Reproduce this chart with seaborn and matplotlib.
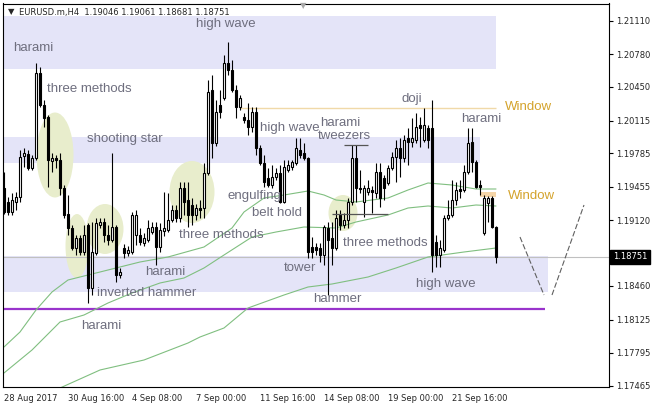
import numpy as np
import pandas as pd
import matplotlib
matplotlib.use('Agg')
import matplotlib.pyplot as plt
import matplotlib.transforms as mtransforms
from matplotlib.patches import Ellipse
import seaborn as sns

# --- EURUSD H4 candles ---
opens = [1.1944, 1.1930, 1.1920, 1.1930, 1.1935, 1.1976, 1.1978, 1.1964, 1.1974, 1.2059,
         1.2027, 1.2015, 1.1971, 1.1974, 1.1972, 1.1944, 1.1918, 1.1904, 1.1884, 1.1894,
         1.1880, 1.1907, 1.1844, 1.1879, 1.1907, 1.1910, 1.1897, 1.1892, 1.1905, 1.1857,
         1.1884, 1.1879, 1.1880, 1.1897, 1.1897, 1.1889, 1.1892, 1.1900, 1.1905, 1.1885,
         1.1901, 1.1902, 1.1912, 1.1922, 1.1914, 1.1944, 1.1932, 1.1927, 1.1917, 1.1924,
         1.1924, 1.1959, 1.2042, 1.1989, 1.2027, 1.2034, 1.2069, 1.2062, 1.2042, 1.2025,
         1.2015, 1.2012, 1.2005, 1.2020, 1.1984, 1.1969, 1.1954, 1.1947, 1.1955, 1.1959,
         1.1930, 1.1962, 1.1965, 1.1969, 1.1982, 1.1979, 1.1974, 1.1885, 1.1885, 1.1884,
         1.1877, 1.1904, 1.1894, 1.1884, 1.1917, 1.1907, 1.1912, 1.1930, 1.1974, 1.1944,
         1.1930, 1.1940, 1.1942, 1.1939, 1.1960, 1.1954, 1.1949, 1.1964, 1.1975, 1.1984,
         1.1974, 1.1994, 1.1990, 1.1992, 1.2007, 1.1992, 1.2004, 1.2004, 1.1890, 1.1877,
         1.1882, 1.1914, 1.1917, 1.1932, 1.1943, 1.1942, 1.1960, 1.1990, 1.1970, 1.1947,
         1.1899, 1.1929, 1.1934, 1.1905]
highs = [1.1960, 1.1935, 1.1939, 1.1940, 1.1982, 1.1984, 1.1982, 1.1977, 1.2069, 1.2065,
         1.2032, 1.2017, 1.1979, 1.1977, 1.1979, 1.1947, 1.1937, 1.1907, 1.1897, 1.1897,
         1.1907, 1.1909, 1.1910, 1.1914, 1.1914, 1.1914, 1.1907, 1.1979, 1.1907, 1.1864,
         1.1888, 1.1886, 1.1920, 1.1922, 1.1904, 1.1899, 1.1912, 1.1910, 1.1910, 1.1909,
         1.1940, 1.1939, 1.1927, 1.1927, 1.1950, 1.1950, 1.1950, 1.1934, 1.1928, 1.1932,
         1.1969, 1.2052, 1.2057, 1.2032, 1.2042, 1.2077, 1.2090, 1.2072, 1.2047, 1.2037,
         1.2019, 1.2029, 1.2025, 1.2025, 1.1987, 1.1977, 1.1964, 1.1967, 1.1964, 1.1967,
         1.1972, 1.1972, 1.1972, 1.1994, 1.1994, 1.1989, 1.1975, 1.1895, 1.1889, 1.1889,
         1.1907, 1.1910, 1.1910, 1.1922, 1.1922, 1.1919, 1.1934, 1.1987, 1.1987, 1.1962,
         1.1947, 1.1952, 1.1946, 1.1969, 1.1969, 1.1957, 1.1967, 1.1980, 1.1992, 1.1994,
         1.1997, 1.2004, 1.2014, 1.2019, 1.2015, 1.2024, 1.2007, 1.2032, 1.1897, 1.1892,
         1.1917, 1.1932, 1.1952, 1.1950, 1.1952, 1.1967, 1.2004, 1.2004, 1.1972, 1.1952,
         1.1937, 1.1936, 1.1936, 1.1906]
lows = [1.1918, 1.1917, 1.1917, 1.1922, 1.1930, 1.1965, 1.1962, 1.1962, 1.1972, 1.2025,
        1.2005, 1.1945, 1.1960, 1.1964, 1.1937, 1.1914, 1.1897, 1.1882, 1.1877, 1.1877,
        1.1877, 1.1829, 1.1837, 1.1877, 1.1904, 1.1890, 1.1887, 1.1890, 1.1850, 1.1854,
        1.1874, 1.1876, 1.1878, 1.1887, 1.1887, 1.1886, 1.1890, 1.1898, 1.1867, 1.1880,
        1.1896, 1.1900, 1.1910, 1.1910, 1.1910, 1.1917, 1.1905, 1.1907, 1.1912, 1.1914,
        1.1914, 1.1957, 1.1974, 1.1986, 1.2014, 1.2032, 1.2057, 1.2040, 1.2014, 1.2022,
        1.2009, 1.1997, 1.2000, 1.1977, 1.1967, 1.1945, 1.1945, 1.1944, 1.1952, 1.1929,
        1.1929, 1.1960, 1.1962, 1.1967, 1.1974, 1.1972, 1.1874, 1.1874, 1.1877, 1.1870,
        1.1867, 1.1837, 1.1867, 1.1882, 1.1902, 1.1904, 1.1904, 1.1927, 1.1930, 1.1939,
        1.1915, 1.1937, 1.1919, 1.1934, 1.1925, 1.1932, 1.1947, 1.1962, 1.1950, 1.1955,
        1.1970, 1.1967, 1.1985, 1.1989, 1.1985, 1.1990, 1.1984, 1.1860, 1.1865, 1.1865,
        1.1880, 1.1912, 1.1915, 1.1927, 1.1934, 1.1940, 1.1958, 1.1960, 1.1944, 1.1937,
        1.1897, 1.1910, 1.1904, 1.1869]
closes = [1.1920, 1.1920, 1.1932, 1.1935, 1.1975, 1.1979, 1.1964, 1.1974, 1.2059, 1.2027,
          1.2014, 1.1972, 1.1974, 1.1972, 1.1944, 1.1917, 1.1904, 1.1884, 1.1894, 1.1880,
          1.1897, 1.1844, 1.1880, 1.1909, 1.1910, 1.1897, 1.1892, 1.1905, 1.1857, 1.1860,
          1.1879, 1.1882, 1.1917, 1.1917, 1.1890, 1.1894, 1.1904, 1.1905, 1.1885, 1.1902,
          1.1904, 1.1912, 1.1922, 1.1914, 1.1944, 1.1930, 1.1917, 1.1917, 1.1924, 1.1922,
          1.1959, 1.2040, 1.1989, 1.2020, 1.2020, 1.2069, 1.2062, 1.2042, 1.2025, 1.2034,
          1.2012, 1.2005, 1.2020, 1.1984, 1.1969, 1.1950, 1.1947, 1.1955, 1.1959, 1.1930,
          1.1965, 1.1967, 1.1970, 1.1984, 1.1977, 1.1974, 1.1880, 1.1880, 1.1882, 1.1877,
          1.1905, 1.1892, 1.1884, 1.1914, 1.1907, 1.1912, 1.1930, 1.1974, 1.1944, 1.1943,
          1.1944, 1.1944, 1.1940, 1.1960, 1.1934, 1.1944, 1.1964, 1.1975, 1.1984, 1.1974,
          1.1992, 1.1990, 1.1994, 1.2005, 1.2004, 1.2007, 1.1992, 1.1877, 1.1877, 1.1884,
          1.1914, 1.1917, 1.1932, 1.1942, 1.1941, 1.1960, 1.1989, 1.1970, 1.1945, 1.1945,
          1.1934, 1.1934, 1.1905, 1.18751]

# moving averages, sampled at bar indices
ma_fast_idx = [0, 4, 8, 12, 16, 21, 26, 34, 41, 50, 57, 60, 65, 70, 76, 80, 83, 88, 96, 101, 106, 112, 118, 123]
ma_fast = [1.1785, 1.1800, 1.1822, 1.1840, 1.1852, 1.1857, 1.1862, 1.1870, 1.1875, 1.1885, 1.1904, 1.1920,
           1.1934, 1.1937, 1.1941, 1.1937, 1.1932, 1.1930, 1.1934, 1.1942, 1.1949, 1.1947, 1.1943, 1.1943]
ma_mid_idx = [0, 7, 14, 20, 26, 32, 39, 45, 50, 55, 62, 68, 75, 83, 88, 96, 101, 106, 112, 118, 123]
ma_mid = [1.1759, 1.1782, 1.1810, 1.1817, 1.1829, 1.1839, 1.1849, 1.1854, 1.1864, 1.1877, 1.1895,
          1.1900, 1.1905, 1.1904, 1.1910, 1.1917, 1.1924, 1.1926, 1.1924, 1.1927, 1.1926]
ma_slow_idx = [14, 24, 35, 46, 49, 55, 61, 70, 76, 82, 91, 98, 106, 115, 123]
ma_slow = [1.1744, 1.1762, 1.1772, 1.1789, 1.1795, 1.1804, 1.1824, 1.1837, 1.1845, 1.1848,
           1.1855, 1.1864, 1.1875, 1.1880, 1.1884]

xtick_idx = [0, 16, 32, 48, 64, 80, 96, 112]
xtick_labels = ['28 Aug 2017', '30 Aug 16:00', '4 Sep 08:00', '7 Sep 00:00',
                '11 Sep 16:00', '14 Sep 08:00', '19 Sep 00:00', '21 Sep 16:00']
yticks = [1.21110, 1.20780, 1.20450, 1.20115, 1.19785, 1.19455, 1.19120,
          1.18790, 1.18460, 1.18125, 1.17795, 1.17465]
last_price = 1.18751

# zones (x0, x1, low, high)
bands = [(-0.25, 123, 1.2063, 1.2116), (-0.25, 119, 1.1969, 1.1995), (-0.25, 136, 1.1840, 1.1876)]
# highlight ellipses (x, price, width in bars, height in price)
ellipses = [(12.75, 1.1977, 9.25, 0.0085), (18.25, 1.1886, 5.75, 0.0064), (25.25, 1.1903, 9.25, 0.0050),
            (47.0, 1.1940, 11.25, 0.0062), (84.75, 1.1919, 7.25, 0.0036)]
labels = [('harami', 2.25, 1.2090), ('three methods', 10.75, 1.2049), ('high wave', 48, 1.2114),
          ('shooting star', 20.75, 1.1999), ('doji', 99.5, 1.2039), ('harami', 114.25, 1.2019),
          ('high wave', 64, 1.2010), ('harami', 79, 1.2015), ('tweezers', 78.5, 1.2002),
          ('engulfing', 56, 1.1942), ('belt hold', 62, 1.1925), ('three methods', 43.75, 1.1903),
          ('three methods', 84.75, 1.1895), ('harami', 35.25, 1.1866), ('inverted hammer', 23.25, 1.1845),
          ('harami', 19.25, 1.1812), ('tower', 70, 1.1870), ('hammer', 77.25, 1.1839),
          ('high wave', 103, 1.1854)]
windows = [('Window', 125.25, 1.2031), ('Window', 126, 1.1942)]

sns.set_style('white')
plt.rcParams['font.family'] = ['Liberation Sans', 'DejaVu Sans']

fig = plt.figure(figsize=(6.52, 4.08), dpi=100)
ax = fig.add_axes([3 / 652, 21 / 408, 606 / 652, 383.5 / 408])
ax.set_xlim(-0.25, 151.25)
ax.set_ylim(1.1745, 1.21285)

for x0, x1, lo, hi in bands:
    ax.fill_between([x0, x1], lo, hi, color='#e4e4f8', lw=0, zorder=0)
for cx, cy, w, h in ellipses:
    ax.add_patch(Ellipse((cx, cy), w, h, facecolor='#e8edcc', edgecolor='none', zorder=0.5))

ax.axhline(last_price, color='#c0c0c0', lw=0.8, zorder=0.8)
ax.hlines(1.1823, -0.25, 135.25, color='#9933cc', lw=1.6, zorder=1)
ax.hlines(1.2024, 59, 123, color='#f0d9a8', lw=1, zorder=1)
ax.fill_between([119, 123], 1.1935, 1.1940, color='#f5d5a8', lw=0, zorder=1)

# moving averages
ma = pd.concat([
    pd.DataFrame({'bar': ma_fast_idx, 'price': ma_fast, 'ma': 'fast'}),
    pd.DataFrame({'bar': ma_mid_idx, 'price': ma_mid, 'ma': 'mid'}),
    pd.DataFrame({'bar': ma_slow_idx, 'price': ma_slow, 'ma': 'slow'}),
])
for name, grp in ma.groupby('ma'):
    sns.lineplot(data=grp, x='bar', y='price', ax=ax, color='#80bf80', lw=0.8, zorder=1.5)

# candles
df = pd.DataFrame({'o': opens, 'h': highs, 'l': lows, 'c': closes})
df['bar'] = np.arange(len(df))
df['bottom'] = df[['o', 'c']].min(axis=1)
df['height'] = (df['c'] - df['o']).abs()
up = df['c'] >= df['o']
ax.vlines(df['bar'], df['l'], df['h'], color='black', lw=0.8, zorder=2)
ax.bar(df['bar'], df['height'], bottom=df['bottom'], width=0.5,
       color=np.where(up, 'white', 'black'), edgecolor='black', linewidth=0.8, zorder=3)

# tweezers lines and projection
ax.hlines(1.1987, 85, 91, color='#555555', lw=0.9, zorder=3.5)
ax.hlines(1.1918, 82, 96, color='#555555', lw=0.9, zorder=3.5)
ax.plot([129, 135], [1.1895, 1.1837], color='#606060', lw=0.8, dashes=(5, 2))
ax.plot([137, 145], [1.1837, 1.1927], color='#606060', lw=0.8, dashes=(5, 2))

for txt, x, y in labels:
    ax.text(x, y, txt, fontsize=9.5, color='#6e6e7e', va='top', ha='left', zorder=4)
for txt, x, y in windows:
    ax.text(x, y, txt, fontsize=9.5, color='#d4a32c', va='top', ha='left', zorder=4)

# axes styling
ax.set_xlabel('')
ax.set_ylabel('')
ax.yaxis.tick_right()
ax.set_yticks(yticks)
# the 1.18790 label sits under the last-price box, so it is left blank
ax.set_yticklabels(['' if abs(v - 1.18790) < 1e-6 else f'{v:.5f}' for v in yticks],
                   family='DejaVu Sans', fontsize=6)
ax.set_xticks(xtick_idx)
ax.set_xticklabels(xtick_labels, family='DejaVu Sans', fontsize=6, ha='left')
ax.tick_params(axis='both', length=3, width=0.8, color='black', pad=2, direction='out')
for s in ax.spines.values():
    s.set_color('black')
    s.set_linewidth(0.8)

trans = mtransforms.blended_transform_factory(ax.transAxes, ax.transData)
ax.text(1.006, last_price, f'{last_price:.5f}', transform=trans, color='white', fontsize=6,
        family='DejaVu Sans', va='center', ha='left', clip_on=False, zorder=10,
        bbox=dict(boxstyle='square,pad=0.3', fc='black', ec='black'))

fig.text(8 / 652, 1 - 12 / 408, '\u25bc', fontsize=6, family='DejaVu Sans', va='center')
fig.text(19 / 652, 1 - 12 / 408, 'EURUSD.m,H4  1.19046 1.19061 1.18681 1.18751',
         fontsize=6, family='DejaVu Sans', va='center')
fig.text(303 / 652, 1 - 6 / 408, '\u25bc', fontsize=6, family='DejaVu Sans', color='#a8a8a8',
         va='center', ha='center')

fig.savefig('out.png', dpi=100)
